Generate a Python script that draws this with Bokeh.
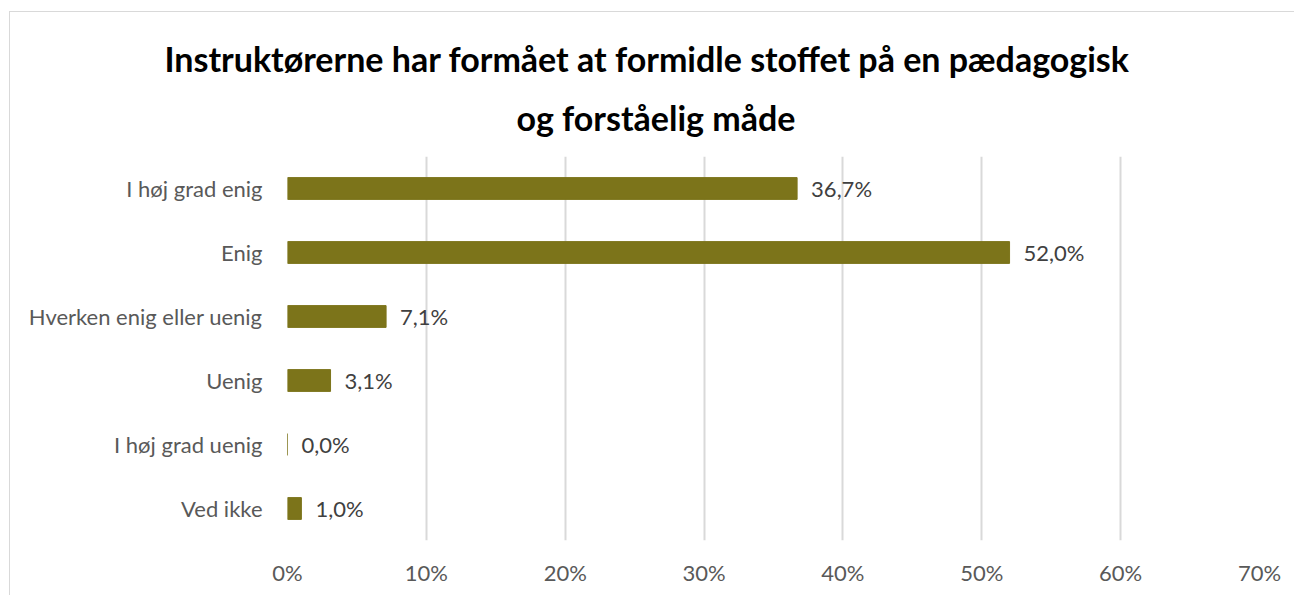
from bokeh.plotting import figure
from bokeh.models import ColumnDataSource, FactorRange, FixedTicker, NumeralTickFormatter, Title
from bokeh.core.properties import value
from bokeh.embed import file_html
from bokeh.resources import INLINE

categories = ["I høj grad enig", "Enig", "Hverken enig eller uenig", "Uenig", "I høj grad uenig", "Ved ikke"]
shares = [0.367, 0.520, 0.071, 0.031, 0.000, 0.010]
x_ticks = [0.0, 0.1, 0.2, 0.3, 0.4, 0.5, 0.6, 0.7]
title_lines = ["Instruktørerne har formået at formidle stoffet på en pædagogisk", "og forståelig måde"]

labels = [("%.1f%%" % (v * 100)).replace(".", ",") for v in shares]
src = ColumnDataSource(dict(cat=categories, val=shares, lab=labels))

FONT = "Lato"
BAR = "#7C741A"

p = figure(width=1285, height=584, output_backend="svg", toolbar_location=None,
           y_range=FactorRange(*list(reversed(categories))), x_range=(0, 0.7),
           min_border_left=277, min_border_right=36, min_border_top=144, min_border_bottom=56)
p.title = None
t2 = Title(text=title_lines[1], align="left", vertical_align="top", text_font=FONT,
           text_font_size="34px", text_font_style="bold", text_color="#000000",
           offset=229, standoff=33)
t1 = Title(text=title_lines[0], align="left", vertical_align="top", text_font=FONT,
           text_font_size="34px", text_font_style="bold", text_color="#000000",
           offset=-123, standoff=0)
p.add_layout(t2, "above")
p.add_layout(t1, "above")

p.hbar(y="cat", right="val", left=0, height=0.34, source=src, color=BAR)
p.text(x="val", y="cat", text="lab", source=src, x_offset=14, text_align="left",
       text_baseline="middle", text_font=value(FONT), text_font_size="22px", text_color="#404040")

p.outline_line_color = None
p.ygrid.grid_line_color = None
p.xgrid.grid_line_color = "#D9D9D9"
p.xgrid.grid_line_width = 2
p.xaxis.ticker = FixedTicker(ticks=x_ticks)
p.xaxis.formatter = NumeralTickFormatter(format="0%")
for ax in (p.xaxis[0], p.yaxis[0]):
    ax.axis_line_color = None
    ax.major_tick_line_color = None
    ax.minor_tick_line_color = None
    ax.major_label_text_font = FONT
    ax.major_label_text_font_size = "22px"
    ax.major_label_text_color = "#595959"
p.xaxis.major_label_standoff = 12
p.yaxis.major_label_standoff = 19
p.styles = {"border-top": "1px solid #D9D9D9", "border-left": "1px solid #D9D9D9",
            "margin-top": "11px", "margin-left": "9px"}

open("out.html", "w").write(file_html(p, INLINE))
